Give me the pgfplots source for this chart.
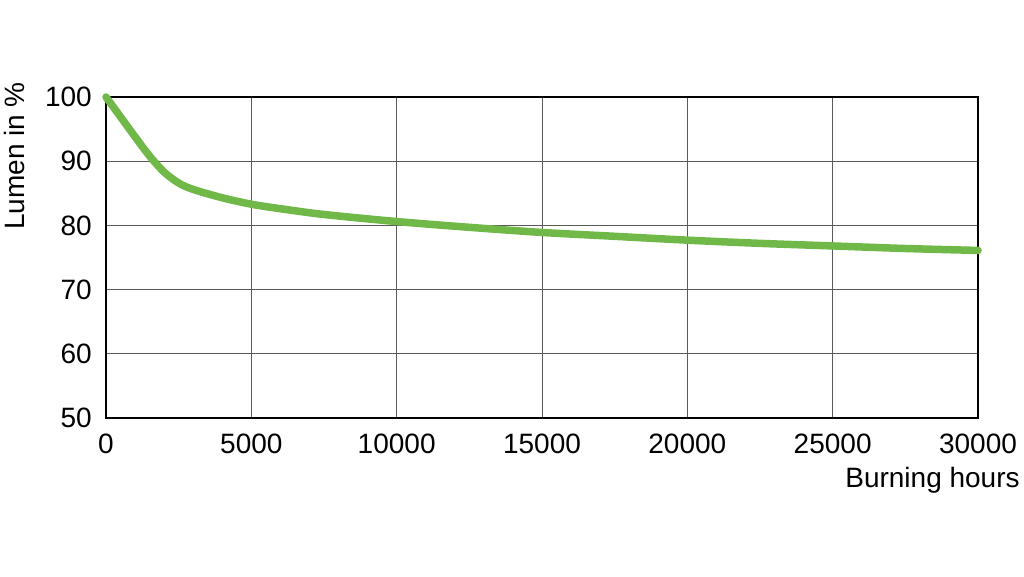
\documentclass[border=0pt]{standalone}
\usepackage{pgfplots}
\pgfplotsset{compat=1.18}
\usepackage{fontspec}
\setmainfont{Liberation Sans}
\definecolor{lumgreen}{RGB}{112,184,72}
\begin{document}
\begin{tikzpicture}
\path[use as bounding box] (0,0) rectangle (1024pt,577pt);
\begin{axis}[
    at={(106pt,159pt)}, anchor=origin,
    scale only axis,
    width=872pt, height=321pt,
    xmin=0, xmax=30000,
    ymin=50, ymax=100,
    xtick={0,5000,10000,15000,20000,25000,30000},
    ytick={50,60,70,80,90,100},
    scaled x ticks=false,
    /pgf/number format/assume math mode=true,
    xticklabel={\pgfmathprintnumber[fixed,1000 sep={}]{\tick}},
    grid=major,
    major grid style={black!65, line width=0.9pt},
    major tick length=0pt,
    axis line style={black, line width=2.8pt},
    tick label style={font=\fontsize{28}{32}\selectfont, inner sep=0pt},
    yticklabel style={anchor=east, xshift=-14pt},
    xticklabel style={anchor=north, yshift=-16pt},
    label style={font=\fontsize{28}{32}\selectfont, inner sep=0pt},
    xlabel={Burning hours},
    xlabel style={at={(axis description cs:1.048,-0.218)}, anchor=base east},
    ylabel={Lumen in \%},
    ylabel style={at={(axis description cs:-0.094,1.047)}, anchor=base east},
    clip=false,
]
\addplot[lumgreen, line width=7.5pt, smooth, line cap=round] coordinates {
    (0,100)(500,96.9)(1000,93.8)(1500,90.8)(2000,88.3)(2500,86.6)(3000,85.6)
    (4000,84.3)(5000,83.3)(6000,82.6)(7500,81.7)(10000,80.6)(12500,79.7)
    (15000,78.9)(17500,78.3)(20000,77.7)(22500,77.2)(25000,76.8)(27500,76.4)(30000,76.1)
};
\end{axis}
\end{tikzpicture}
\end{document}
